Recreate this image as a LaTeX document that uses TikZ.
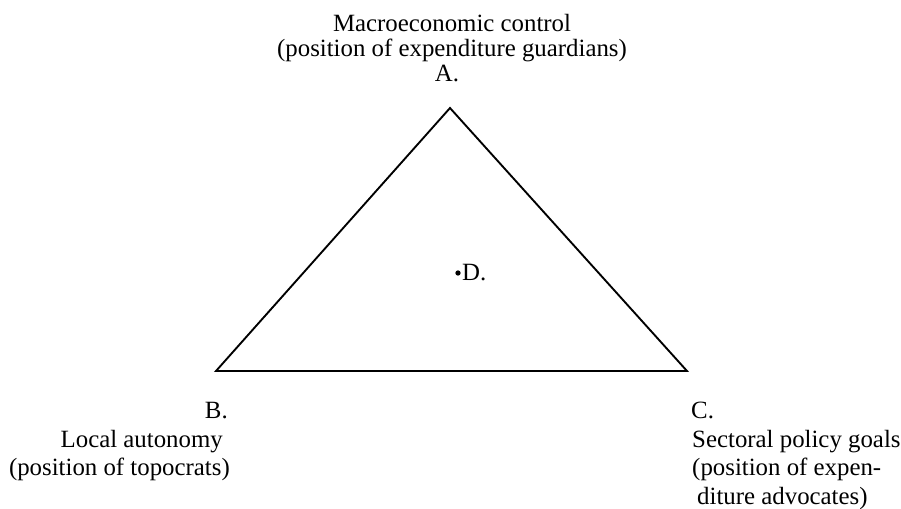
\documentclass[tikz,border=0pt]{standalone}
\usepackage{fontspec}
\setmainfont{Liberation Serif}

\begin{document}
\begin{tikzpicture}[x=0.03cm,y=-0.03cm,
  lbl/.style={inner sep=0pt, font=\fontsize{21.2}{25}\selectfont},
  side/.style={line width=1.6pt, line join=miter}]
\useasboundingbox (0,0) rectangle (901,509);
% vertices
\coordinate (A) at (450,108);
\coordinate (B) at (216,371);
\coordinate (C) at (687,371);
\draw[side] (A) -- (B) -- (C) -- cycle;
% inner point
\node[circle, fill, inner sep=0pt, minimum size=4.5pt] (D) at (458,273) {};
\node[lbl, anchor=west] (Dlab) at (462,273) {D.};
% top corner
\node[lbl, anchor=base] (Atitle) at (452,32) {Macroeconomic control};
\node[lbl, anchor=base] (Apos) at (452,57) {(position of expenditure guardians)};
\node[lbl, anchor=base] (Alab) at (447,82) {A.};
% left corner
\node[lbl, anchor=base east] (Blab) at (228,418) {B.};
\node[lbl, anchor=base east] (Btitle) at (223,447) {Local autonomy};
\node[lbl, anchor=base east] (Bpos) at (230,475) {(position of topocrats)};
% right corner
\node[lbl, anchor=base west] (Clab) at (691,418) {C.};
\node[lbl, anchor=base west] (Ctitle) at (692,447) {Sectoral policy goals};
\node[lbl, anchor=base west] (Cpos) at (692,475) {(position of expen-};
\node[lbl, anchor=base west] (Cpos2) at (697,504) {diture advocates)};
\end{tikzpicture}
\end{document}
